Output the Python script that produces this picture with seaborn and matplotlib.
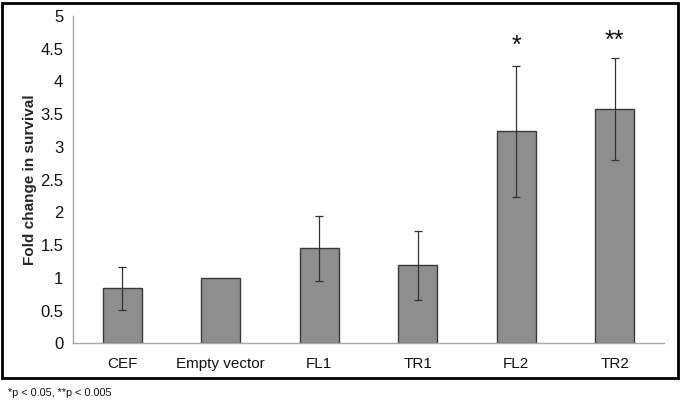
import matplotlib
matplotlib.use("Agg")
import matplotlib.pyplot as plt
import seaborn as sns
import pandas as pd
import numpy as np
from matplotlib.patches import Rectangle

categories = ["CEF", "Empty vector", "FL1", "TR1", "FL2", "TR2"]
values = [0.84, 1.0, 1.45, 1.19, 3.24, 3.58]
errors = [0.33, 0.0, 0.50, 0.53, 1.00, 0.78]
stars = ["", "", "", "", "*", "**"]
star_y = [0, 0, 0, 0, 4.36, 4.44]
yticks = [0, 0.5, 1, 1.5, 2, 2.5, 3, 3.5, 4, 4.5, 5]
ytick_labels = ["0", "0.5", "1", "1.5", "2", "2.5", "3", "3.5", "4", "4.5", "5"]

sns.set_style("white")
plt.rcParams["font.family"] = ["Liberation Sans", "DejaVu Sans"]

df = pd.DataFrame({"cat": categories, "val": values})

fig = plt.figure(figsize=(6.8, 4.04), dpi=100)
ax = fig.add_axes([73/680, (404-343.3)/404, (664-73)/680, (343.3-16)/404])

sns.barplot(data=df, x="cat", y="val", order=categories, color="#8c8c8c",
            width=0.4, edgecolor="#3a3a3a", linewidth=1.0, saturation=1, ax=ax)
for p in ax.patches:
    p.set_facecolor("#8e8e8e")

xpos = np.arange(len(categories))
mask = np.array(errors) > 0
ax.errorbar(xpos[mask], np.array(values)[mask], yerr=np.array(errors)[mask],
            fmt="none", ecolor="#333333", elinewidth=0.9, capsize=3, capthick=0.9)

for x, s, y in zip(xpos, stars, star_y):
    if s:
        ax.text(x, y, s, ha="center", va="bottom", fontsize=18, color="#111111")

ax.set_xlim(-0.5, len(categories) - 0.5)
ax.set_ylim(0, 5)
ax.set_yticks(yticks)
ax.set_yticklabels(ytick_labels, fontsize=12, color="#111111")
ax.set_xticks(xpos)
ax.set_xticklabels(categories, fontsize=11, color="#111111")
ax.set_xticks(np.arange(-0.5, len(categories)), minor=True)
ax.tick_params(axis="x", which="major", length=0, pad=10)
ax.tick_params(axis="x", which="minor", length=4, color="#a0a0a0", width=0.8, direction="out")
ax.tick_params(axis="y", which="major", length=4, color="#a0a0a0", width=0.8, direction="out", pad=3)
ax.set_xlabel("")
ax.set_ylabel("Fold change in survival", fontsize=11, fontweight="bold", labelpad=2)

for side in ["top", "right"]:
    ax.spines[side].set_visible(False)
for side in ["left", "bottom"]:
    ax.spines[side].set_color("#a8a8a8")
    ax.spines[side].set_linewidth(1.0)

fig.patches.append(Rectangle((2/680, (404-378)/404), 676/680, 375/404,
                             transform=fig.transFigure, fill=False,
                             edgecolor="black", linewidth=2.0))
fig.text(8/680, (404-393)/404, "*p < 0.05, **p < 0.005", fontsize=7.8,
         va="center", ha="left", color="#111111")

fig.savefig("out.png", dpi=100)
